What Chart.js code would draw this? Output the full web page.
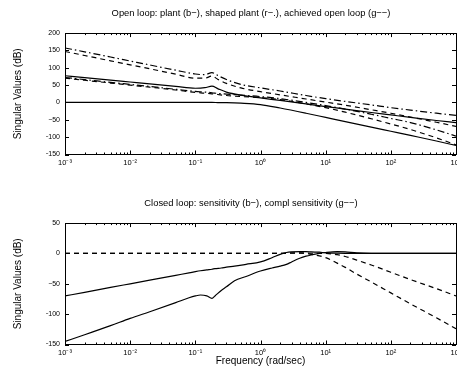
<!DOCTYPE html>
<html>
<head>
<meta charset="utf-8">
<script src="https://cdn.jsdelivr.net/npm/chart.js@4.4.1/dist/chart.umd.min.js"></script>
<style>
  html, body { margin: 0; padding: 0; background: #fff; overflow: hidden; width: 457px; height: 380px; }
  canvas { position: absolute; left: 0; }
  #openLoop { top: 0; }
  #closedLoop { top: 190px; }
</style>
</head>
<body>
<canvas id="openLoop" width="470" height="190"></canvas>
<canvas id="closedLoop" width="470" height="190"></canvas>
<script>
// frequency axis (rad/sec)
const xTicks = [1e-3, 1e-2, 1e-1, 1, 10, 100, 1000];
const xTickLabels = ["10⁻³", "10⁻²", "10⁻¹", "10⁰", "10¹", "10²", "10³"];

// open loop plot
const freqOL = [0.001, 0.002, 0.005, 0.01, 0.02, 0.05, 0.1, 0.14, 0.18, 0.22, 0.3, 0.5, 1, 2, 5, 10, 20, 50, 100, 200, 500, 1000];
const plantSv1 = [77, 71.6, 64.4, 59, 53.6, 46.4, 41, 42.5, 47, 40, 30, 21, 13, 6, -4, -12, -19, -29, -36, -43, -52, -58];
const plantSv2 = [0, 0, 0, 0, 0, 0, 0, 0, 0, -0.2, -0.5, -2, -6, -16, -31, -43, -55, -71, -83, -95, -111, -124];
const shapedSv1 = [157, 146, 131, 119.5, 108, 93, 82, 80, 86, 78, 66, 52, 42, 33, 20, 11, 3, -7, -15, -22, -31, -37];
const shapedSv2 = [72, 66, 58, 52, 46, 38, 32, 30, 28, 26, 24, 21, 17, 11, 0, -9, -19, -34, -46, -58, -79, -97];
const loopSv1 = [147, 135.4, 120, 108.5, 97, 81.5, 70, 70, 76, 67, 55, 42, 31, 22, 10, 1, -8, -21, -31, -42, -57, -69];
const loopSv2 = [70, 64, 56, 50, 44, 36, 29, 27, 25, 23, 20, 17, 14, 8, -4, -15, -28, -47, -62, -78, -102, -122];
const yTicksOL = [-150, -100, -50, 0, 50, 100, 150, 200];

// closed loop plot
const freqCL = [0.001, 0.002, 0.005, 0.01, 0.02, 0.05, 0.08, 0.1, 0.12, 0.15, 0.18, 0.2, 0.25, 0.3, 0.4, 0.6, 1, 1.5, 2, 2.5, 3, 4, 5, 6, 8, 10, 15, 20, 30, 50, 100, 200, 500, 1000];
const sensSv1 = [-70, -64, -56, -50, -44, -36, -32, -30, -28.5, -27, -26, -25, -24, -22.5, -21, -18, -14, -7, -1.5, 1.5, 2.5, 3, 3, 2.5, 2, 1, 0.5, 0.2, 0, 0, 0, 0, 0, 0];
const sensSv2 = [-145, -134, -119, -107, -96, -81, -73, -70, -68.5, -70, -74, -70, -61, -55, -45, -38, -29, -24, -21, -18, -14, -8, -4.5, -2.5, 0, 1.5, 3, 2.5, 1, 0.2, 0, 0, 0, 0];
const complSv1 = [0, 0, 0, 0, 0, 0, 0, 0, 0, 0, 0, 0, 0, 0, 0, 0, 0, 0, 0, 0.2, 0.3, 0.4, 0.4, 0.3, 0.2, 0, -2, -5, -11, -19, -31, -43, -58, -70];
const complSv2 = [0, 0, 0, 0, 0, 0, 0, 0, 0, 0, 0, 0, 0, 0, 0, 0, 0, 0, 0.2, 0.5, 1, 1, 0, -1.5, -4, -7, -16, -23, -34, -47, -65, -83, -106, -124];
const yTicksCL = [-150, -100, -50, 0, 50];

const FONT = "'Liberation Sans', Arial, Helvetica, sans-serif";
const SOLID = [];
const DASHED = [5, 4];
const DASHDOT = [7, 3, 1.5, 3];

const pts = (xs, ys) => xs.map((x, i) => ({ x, y: ys[i] }));

function line(xs, ys, dash) {
  return {
    data: pts(xs, ys),
    borderColor: "#000",
    borderWidth: 1.2,
    borderDash: dash,
    pointRadius: 0,
    cubicInterpolationMode: "monotone",
    fill: false,
  };
}

// MATLAB style box with inward ticks on all four sides
const boxTicks = {
  id: "boxTicks",
  afterDatasetsDraw(chart) {
    const { ctx, chartArea: a, scales } = chart;
    ctx.save();
    ctx.strokeStyle = "#000";
    ctx.lineWidth = 1;
    ctx.beginPath();
    for (let e = -3; e <= 3; e++) {
      for (let m = 1; m <= 9; m++) {
        const v = m * Math.pow(10, e);
        if (v > 1000) break;
        const px = Math.round(scales.x.getPixelForValue(v)) + 0.5;
        const len = m === 1 ? 4 : 2;
        ctx.moveTo(px, a.bottom);
        ctx.lineTo(px, a.bottom - len);
        ctx.moveTo(px, a.top);
        ctx.lineTo(px, a.top + len);
      }
    }
    scales.y.ticks.forEach((t) => {
      const py = Math.round(scales.y.getPixelForValue(t.value)) + 0.5;
      ctx.moveTo(a.left, py);
      ctx.lineTo(a.left + 4, py);
      ctx.moveTo(a.right, py);
      ctx.lineTo(a.right - 4, py);
    });
    ctx.stroke();
    ctx.strokeRect(Math.round(a.left) + 0.5, Math.round(a.top) + 0.5, Math.round(a.right - a.left), Math.round(a.bottom - a.top));
    ctx.restore();
  },
};

function makeChart(id, title, datasets, yTicks, xTitle) {
  const ctx = document.getElementById(id).getContext("2d");
  return new Chart(ctx, {
    type: "line",
    data: { datasets },
    plugins: [boxTicks],
    options: {
      responsive: false,
      animation: false,
      devicePixelRatio: 1,
      // left padding centres the title like the reference; y axis fills the rest up to x=65
      layout: { padding: { left: 46, right: 14, top: 0, bottom: 0 } },
      plugins: {
        legend: { display: false },
        tooltip: { enabled: false },
        title: {
          display: true,
          text: title,
          color: "#000",
          font: { family: FONT, size: 9.4, weight: "normal" },
          padding: { top: 7.7, bottom: 14.1 },
        },
      },
      scales: {
        x: {
          type: "logarithmic",
          min: xTicks[0],
          max: xTicks[xTicks.length - 1],
          grid: { display: false, drawTicks: false },
          border: { display: false },
          afterBuildTicks: (s) => { s.ticks = xTicks.map((v) => ({ value: v })); },
          afterFit: (s) => { s.height = 35.5; },
          ticks: {
            autoSkip: false,
            maxRotation: 0,
            padding: 4,
            color: "#000",
            font: { family: FONT, size: 7.5 },
            callback: (v) => xTickLabels[xTicks.indexOf(v)] ?? "",
          },
          title: {
            display: !!xTitle,
            text: xTitle || "",
            color: "#000",
            font: { family: FONT, size: 10 },
            padding: { top: 0, bottom: 12.7 },
          },
        },
        y: {
          min: yTicks[0],
          max: yTicks[yTicks.length - 1],
          grid: { display: false, drawTicks: false },
          border: { display: false },
          afterBuildTicks: (s) => { s.ticks = yTicks.map((v) => ({ value: v })); },
          afterFit: (s) => { s.width = 19; },
          ticks: {
            padding: 5,
            color: "#000",
            font: { family: FONT, size: 7 },
            callback: (v) => String(v).replace("-", "\u2212"),
          },
          title: {
            display: true,
            text: "Singular Values (dB)",
            color: "#000",
            font: { family: FONT, size: 10 },
            padding: { top: -33.7, bottom: 0 },
          },
        },
      },
    },
  });
}

window.onload = () => {
  makeChart(
    "openLoop",
    "Open loop: plant (b\u2212), shaped plant (r\u2212.), achieved open loop (g\u2212\u2212)",
    [
      line(freqOL, plantSv1, SOLID),
      line(freqOL, plantSv2, SOLID),
      line(freqOL, shapedSv1, DASHDOT),
      line(freqOL, shapedSv2, DASHDOT),
      line(freqOL, loopSv1, DASHED),
      line(freqOL, loopSv2, DASHED),
    ],
    yTicksOL,
  );
  makeChart(
    "closedLoop",
    "Closed loop: sensitivity (b\u2212), compl sensitivity (g\u2212\u2212)",
    [
      line(freqCL, sensSv1, SOLID),
      line(freqCL, sensSv2, SOLID),
      line(freqCL, complSv1, DASHED),
      line(freqCL, complSv2, DASHED),
    ],
    yTicksCL,
    "Frequency (rad/sec)",
  );
};
</script>
</body>
</html>
